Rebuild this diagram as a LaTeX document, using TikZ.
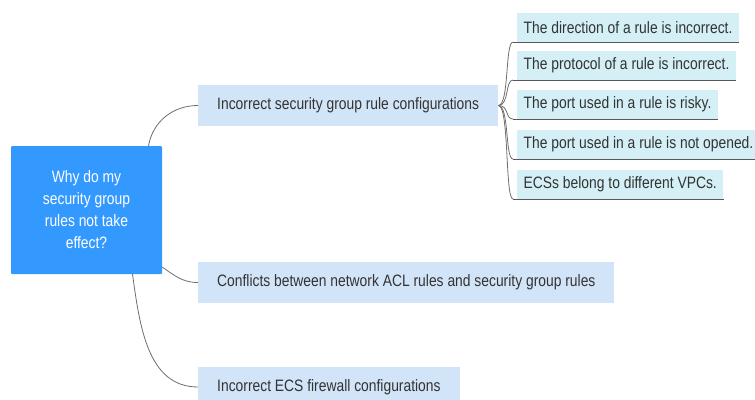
\documentclass[tikz,border=0pt]{standalone}
\usepackage{fontspec}
\setmainfont{Liberation Sans}[FakeStretch=0.84]
\definecolor{rootblue}{RGB}{51,153,255}
\definecolor{branchfill}{RGB}{210,228,248}
\definecolor{leaffill}{RGB}{212,240,246}
\definecolor{txt}{RGB}{51,51,51}
\definecolor{wire}{RGB}{110,110,110}
\begin{document}
\begin{tikzpicture}[x=1pt,y=-1pt,
  every node/.style={font=\fontsize{16.5}{22}\selectfont},
  rootbox/.style={fill=rootblue,text=white,align=center,minimum width=151pt,minimum height=128pt,inner sep=0pt,rounded corners=1pt},
  branchbox/.style={fill=branchfill,text=txt,anchor=west,minimum height=41pt,inner xsep=19pt,inner ysep=0pt},
  leafbox/.style={fill=leaffill,text=txt,anchor=south west,minimum height=29pt,inner xsep=6.5pt,inner ysep=0pt},
  wireline/.style={draw=wire,line width=0.8pt},
  underline/.style={draw=wire!80!black,line width=1pt}]
\clip (0,0) rectangle (755,399);
\node[rootbox] (root) at (86.5,210) {Why do my\\security group\\rules not take\\effect?};
\node[branchbox] (b1) at (198,105.5) {Incorrect security group rule configurations};
\node[branchbox] (b2) at (198,282.5) {Conflicts between network ACL rules and security group rules};
\node[branchbox] (b3) at (198,387) {Incorrect ECS firewall configurations};
\node[leafbox] (l1) at (517,42) {The direction of a rule is incorrect.};
\node[leafbox] (l2) at (517,80) {The protocol of a rule is incorrect.};
\node[leafbox] (l3) at (517,119) {The port used in a rule is risky.};
\node[leafbox] (l4) at (517,159) {The port used in a rule is not opened.};
\node[leafbox] (l5) at (517,199) {ECSs belong to different VPCs.};
\coordinate (r1) at ([xshift=62pt]root.north);
\coordinate (r2) at ([yshift=-57pt]root.east);
\coordinate (r3) at ([xshift=46pt]root.south);
\draw[wireline] (r1) to[out=80,in=180] (b1.west);
\draw[wireline] (r2) to[out=-35,in=180] (b2.west);
\draw[wireline] (r3) to[out=-82,in=180] (b3.west);
\foreach \l in {l1,l2,l3,l4,l5}{
  \draw[wireline] (b1.east) .. controls ([xshift=11pt]b1.east) and ([xshift=-12pt]\l.south west) .. ([xshift=-4pt]\l.south west);
  \draw[underline] ([xshift=-4pt]\l.south west) -- (\l.south east);
}
\end{tikzpicture}
\end{document}
